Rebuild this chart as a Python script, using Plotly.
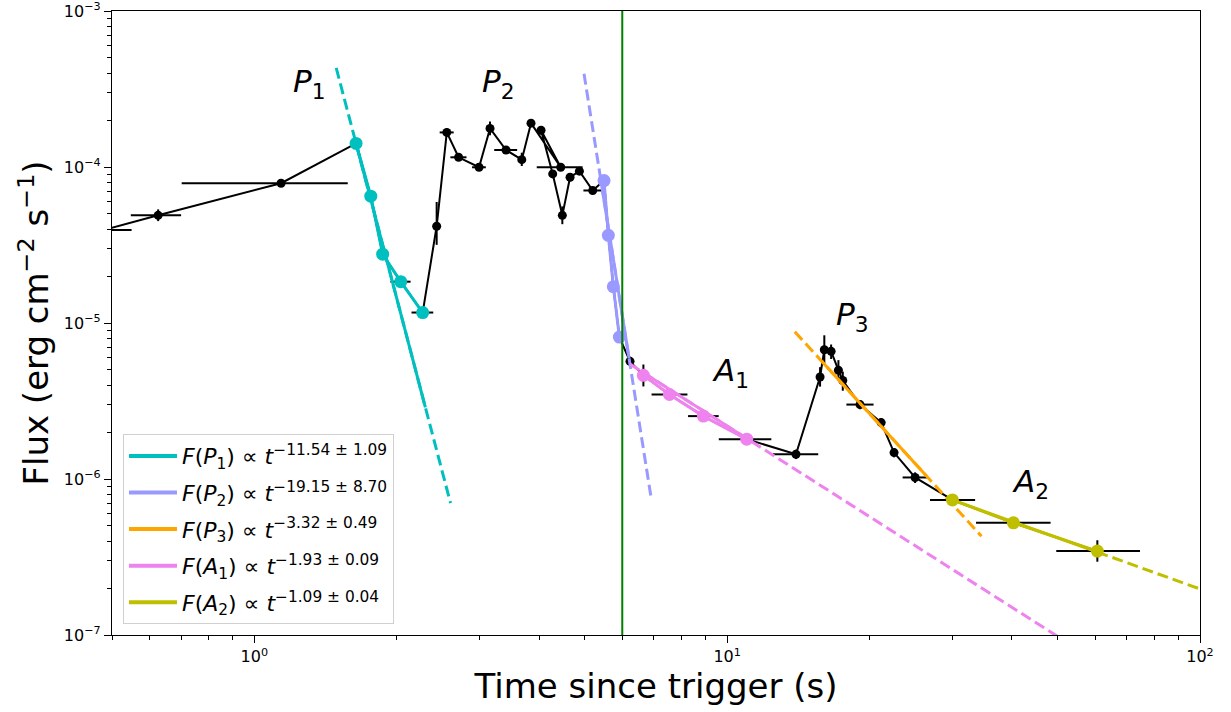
import math
import plotly.graph_objects as go

# Light-curve points (time since trigger in s, flux in erg cm^-2 s^-1), in plotting order
t = [0.48, 0.626, 1.139, 1.641, 1.763, 1.868, 2.04, 2.27, 2.43, 2.553, 2.704, 2.987,
     3.151, 3.406, 3.678, 3.847, 4.446, 4.04, 4.276, 4.481, 4.653, 4.87, 5.196,
     5.49, 5.607, 5.745, 5.916, 6.23, 6.65, 7.55, 8.905, 11.0, 13.98,
     15.72, 16.05, 16.59, 17.19, 17.56, 19.1, 21.17, 22.54, 24.97,
     29.95, 40.3, 60.66]
flux = [3.95e-5, 4.9e-5, 7.87e-5, 1.417e-4, 6.5e-5, 2.76e-5, 1.84e-5, 1.167e-5, 4.17e-5,
        1.666e-4, 1.154e-4, 9.96e-5, 1.767e-4, 1.285e-4, 1.115e-4, 1.91e-4, 9.96e-5,
        1.72e-4, 9.03e-5, 4.9e-5, 8.6e-5, 9.4e-5, 7.07e-5,
        8.19e-5, 3.65e-5, 1.71e-5, 8.12e-6, 5.68e-6, 4.62e-6, 3.48e-6, 2.53e-6, 1.80e-6,
        1.442e-6, 4.51e-6, 6.74e-6, 6.58e-6, 4.98e-6, 4.28e-6, 3.0e-6, 2.30e-6,
        1.477e-6, 1.023e-6, 7.34e-7, 5.24e-7, 3.45e-7]
t_err_lo = [0.06, 0.078, 0.437, 0.02, 0.02, 0.02, 0.1, 0.12, 0.02, 0.087, 0.106, 0.1,
            0.02, 0.19, 0.05, 0.03, 0.49, 0.03, 0.05, 0.02, 0.03, 0.05, 0.23,
            0.03, 0.02, 0.02, 0.02, 0.08, 0.1, 0.63, 0.64, 1.4, 1.48,
            0.1, 0.1, 0.1, 0.1, 0.1, 1.23, 0.3, 0.3, 1.47,
            3.1, 6.7, 11.0]
t_err_hi = [0.07, 0.074, 0.437, 0.02, 0.02, 0.02, 0.1, 0.12, 0.02, 0.087, 0.106, 0.1,
            0.02, 0.19, 0.05, 0.03, 0.5, 0.03, 0.05, 0.02, 0.03, 0.05, 0.23,
            0.03, 0.02, 0.02, 0.02, 0.08, 0.1, 0.69, 0.69, 1.4, 1.6,
            0.1, 0.1, 0.1, 0.1, 0.1, 1.3, 0.3, 0.3, 1.58,
            3.5, 8.0, 14.0]
flux_err_lo = [1.5e-6, 4.0e-6, 3e-6, 5e-6, 3e-6, 1.5e-6, 1.2e-6, 8e-7, 1.0e-5, 1e-5, 6e-6, 5e-6,
               1.7e-5, 7e-6, 1.0e-5, 1e-5, 4e-6, 1e-5, 5e-6, 6e-6, 5e-6, 5e-6, 4e-6,
               4e-6, 2e-6, 1e-6, 6e-7, 4e-7, 7e-7, 2e-7, 1.5e-7, 1e-7, 1e-7,
               6e-7, 1.3e-6, 7e-7, 7e-7, 6e-7, 2e-7, 1.5e-7, 1e-7, 8e-8,
               4e-8, 3e-8, 5e-8]
flux_err_hi = [1.5e-6, 4.5e-6, 3e-6, 5e-6, 3e-6, 1.5e-6, 1.2e-6, 8e-7, 1.8e-5, 1e-5, 6e-6, 5e-6,
               1.9e-5, 7e-6, 1.2e-5, 1e-5, 4e-6, 1e-5, 5e-6, 6.9e-6, 5e-6, 5e-6, 4e-6,
               4e-6, 2e-6, 1e-6, 6e-7, 4e-7, 8e-7, 2e-7, 1.5e-7, 1e-7, 1e-7,
               7e-7, 1.6e-6, 7e-7, 8e-7, 6e-7, 2e-7, 1.5e-7, 1e-7, 8e-8,
               4e-8, 3e-8, 6e-8]
phase = ["", "", "", "P1", "P1", "P1", "P1", "P1", "", "", "", "",
         "", "", "", "", "", "", "", "", "", "", "",
         "P2", "P2", "P2", "P2", "", "A1", "A1", "A1", "A1", "",
         "", "", "", "", "", "", "", "", "",
         "A2", "A2", "A2"]

# Power-law fits F ∝ t^index, anchored at (t_ref, f_ref)
fit_names = ["P1", "P2", "P3", "A1", "A2"]
fit_index = [-11.54, -19.15, -3.32, -1.93, -1.09]
fit_index_err = [1.09, 8.70, 0.49, 0.09, 0.04]
fit_t_ref = [1.641, 5.385, 19.1, 6.23, 29.95]
fit_f_ref = [1.417e-4, 8.86e-5, 3.06e-6, 5.45e-6, 7.34e-7]
fit_solid = [(1.64, 2.30), (5.45, 6.2), (15.85, 26.4), (6.65, 11.0), (29.95, 60.66)]
fit_dashed = [(1.49, 2.60), (4.98, 6.9), (13.9, 34.5), (6.23, 52.0), (60.66, 100.0)]
fit_colors = ["#00bfbf", "#9999ff", "#ffa500", "#ee82ee", "#bfbf00"]

t_boundary = 6.0

# Phase annotations: (label, time, flux)
label_text = ["<i>P</i><sub>1</sub>", "<i>P</i><sub>2</sub>", "<i>P</i><sub>3</sub>",
              "<i>A</i><sub>1</sub>", "<i>A</i><sub>2</sub>"]
label_t = [1.305, 3.277, 18.4, 10.14, 43.7]
label_flux = [3.45e-4, 3.45e-4, 1.1e-5, 4.8e-6, 9.3e-7]

FONT = "DejaVu Sans"


def power_law(i, t_val):
    return fit_f_ref[i] * (t_val / fit_t_ref[i]) ** fit_index[i]


fig = go.Figure()

# Full light curve in black
fig.add_trace(go.Scatter(
    x=t, y=flux, mode="lines+markers",
    line=dict(color="black", width=2),
    marker=dict(color="black", size=9),
    error_x=dict(type="data", symmetric=False, array=t_err_hi, arrayminus=t_err_lo,
                 color="black", thickness=2, width=0),
    error_y=dict(type="data", symmetric=False, array=flux_err_hi, arrayminus=flux_err_lo,
                 color="black", thickness=2, width=0),
    showlegend=False, hoverinfo="skip"))

# Dashed extrapolations of the fits
for i, name in enumerate(fit_names):
    lo, hi = fit_dashed[i]
    fig.add_trace(go.Scatter(
        x=[lo, hi], y=[power_law(i, lo), power_law(i, hi)], mode="lines",
        line=dict(color=fit_colors[i], width=3, dash="11px,5px"),
        showlegend=False, hoverinfo="skip"))

# Solid fits over the fitted intervals
for i, name in enumerate(fit_names):
    lo, hi = fit_solid[i]
    fig.add_trace(go.Scatter(
        x=[lo, hi], y=[power_law(i, lo), power_law(i, hi)], mode="lines",
        line=dict(color=fit_colors[i], width=3),
        showlegend=False, hoverinfo="skip"))

# Points belonging to each fitted phase
for i, name in enumerate(fit_names):
    sel = [k for k, p in enumerate(phase) if p == name]
    if not sel:
        continue
    fig.add_trace(go.Scatter(
        x=[t[k] for k in sel], y=[flux[k] for k in sel], mode="lines+markers",
        line=dict(color=fit_colors[i], width=3),
        marker=dict(color=fit_colors[i], size=13),
        showlegend=False, hoverinfo="skip"))

# Boundary between prompt and afterglow phases
fig.add_trace(go.Scatter(
    x=[t_boundary, t_boundary], y=[1e-7, 1e-3], mode="lines",
    line=dict(color="green", width=2), showlegend=False, hoverinfo="skip"))

# Legend entries
for i, name in enumerate(fit_names):
    letter, num = name[0], name[1]
    text = (f"<i>F</i>(<i>{letter}</i><sub>{num}</sub>) ∝ <i>t</i>"
            f"<sup>−{abs(fit_index[i]):.2f} ± {fit_index_err[i]:.2f}</sup>")
    fig.add_trace(go.Scatter(
        x=[None], y=[None], mode="lines", legendgroup=name,
        line=dict(color=fit_colors[i], width=4), name=text))

for txt, lt, lf in zip(label_text, label_t, label_flux):
    fig.add_annotation(x=math.log10(lt), y=math.log10(lf), text=txt, showarrow=False,
                       font=dict(family=FONT, size=31, color="black"))

x_major = [1, 10, 100]
y_major = [1e-7, 1e-6, 1e-5, 1e-4, 1e-3]
x_minor = [m * 10 ** d for d in range(-1, 2) for m in range(2, 10) if 0.5 <= m * 10 ** d <= 100]
y_minor = [m * 10 ** d for d in range(-7, -3) for m in range(2, 10)]

axis_common = dict(
    type="log", showgrid=False, zeroline=False, showline=True, linecolor="black",
    linewidth=1.3, mirror=True, ticks="outside", ticklen=7, tickwidth=1.3,
    tickcolor="black", tickfont=dict(family=FONT, size=16, color="black"),
    ticklabeloverflow="allow", automargin=False,
)

fig.update_layout(
    width=1231, height=712,
    margin=dict(l=112, r=31, t=11, b=77),
    paper_bgcolor="white", plot_bgcolor="white",
    font=dict(family=FONT, color="black"),
    xaxis=dict(
        range=[math.log10(0.5), 2], tickmode="array", tickvals=x_major,
        ticktext=["10<sup>0</sup>", "10<sup>1</sup>", "10<sup>2</sup>"],
        minor=dict(tickmode="array", tickvals=x_minor, ticks="outside", ticklen=4,
                   tickwidth=1, tickcolor="black", showgrid=False),
        title=dict(text="Time since trigger (s)", font=dict(family=FONT, size=34),
                   standoff=6),
        **axis_common),
    yaxis=dict(
        range=[-7, -3], tickmode="array", tickvals=y_major,
        ticktext=["10<sup>−7</sup>", "10<sup>−6</sup>", "10<sup>−5</sup>",
                  "10<sup>−4</sup>", "10<sup>−3</sup>"],
        minor=dict(tickmode="array", tickvals=y_minor, ticks="outside", ticklen=4,
                   tickwidth=1, tickcolor="black", showgrid=False),
        title=dict(text="Flux (erg cm<sup>−2</sup> s<sup>−1</sup>)",
                   font=dict(family=FONT, size=34), standoff=4),
        **axis_common),
    legend=dict(
        x=0.0101, y=0.0175, xanchor="left", yanchor="bottom",
        bgcolor="rgba(255,255,255,0.85)", bordercolor="#d0d0d0", borderwidth=1,
        font=dict(family=FONT, size=22, color="black"),
        itemwidth=48, tracegroupgap=5),
)

fig.write_html("out.html")
